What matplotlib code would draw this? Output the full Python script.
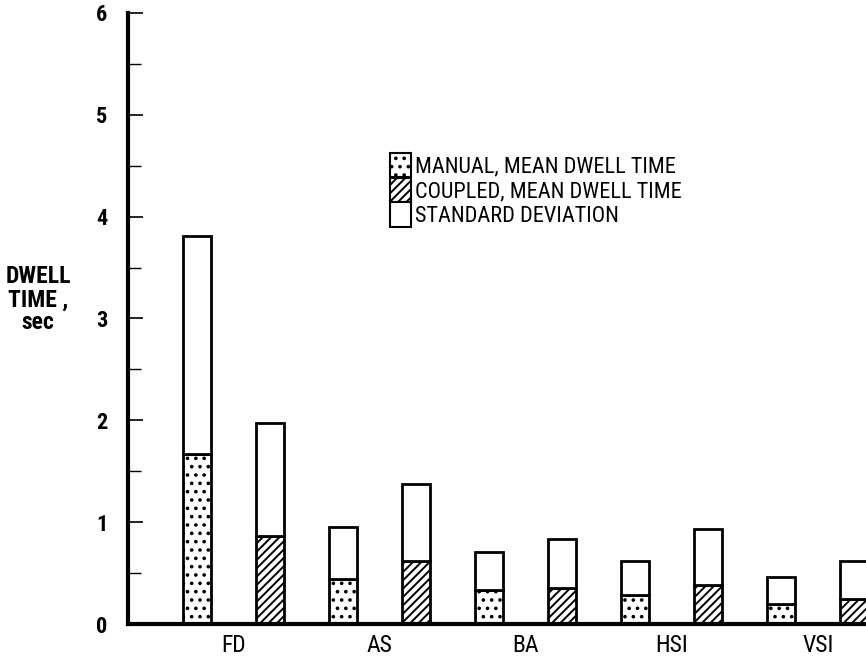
import matplotlib
matplotlib.use("Agg")
import matplotlib.pyplot as plt
import numpy as np
from matplotlib.patches import Patch
import matplotlib as mpl

mpl.rcParams['hatch.linewidth'] = 1.4

categories = ["FD", "AS", "BA", "HSI", "VSI"]
manual_mean = [1.67, 0.44, 0.33, 0.28, 0.20]
manual_std = [2.14, 0.51, 0.38, 0.34, 0.26]
coupled_mean = [0.86, 0.62, 0.35, 0.38, 0.25]
coupled_std = [1.11, 0.75, 0.48, 0.55, 0.37]
yticks = [0, 1, 2, 3, 4, 5, 6]

narrow = ['Roboto Condensed', 'DejaVu Sans']

fig = plt.figure(figsize=(8.66, 6.62), dpi=100)
ax = fig.add_axes([0.148, 0.0574, 0.852, 0.923])

n = len(categories)
xm = np.arange(n) * 2.0
xc = xm + 1.0
w = 0.38

ax.bar(xm, manual_mean, width=w, color='white', edgecolor='black', linewidth=2, hatch='..')
ax.bar(xm, manual_std, width=w, bottom=manual_mean, color='white', edgecolor='black', linewidth=2)
ax.bar(xc, coupled_mean, width=w, color='white', edgecolor='black', linewidth=2, hatch='////')
ax.bar(xc, coupled_std, width=w, bottom=coupled_mean, color='white', edgecolor='black', linewidth=2)

ax.set_xlim(-0.945, 9.16)
ax.set_ylim(0, 6)
ax.spines['top'].set_visible(False)
ax.spines['right'].set_visible(False)
ax.spines['left'].set_linewidth(3)
ax.spines['bottom'].set_linewidth(3)

ax.set_yticks(yticks)
ax.set_yticklabels([str(t) for t in yticks], fontsize=16, fontweight='bold', family=narrow)
ax.set_yticks(np.arange(0.5, 6, 1.0), minor=True)
ax.tick_params(axis='y', which='major', direction='in', length=11, width=1.2, pad=15)
ax.tick_params(axis='y', which='minor', direction='in', length=9, width=1.0)
ax.set_xticks((xm + xc) / 2)
ax.set_xticklabels(categories, fontsize=17, family=narrow)
ax.tick_params(axis='x', length=0, pad=7)

fig.text(0.044, 0.547, "DWELL\nTIME ,\nsec", ha='center', va='center', fontsize=17,
         fontweight='bold', family=narrow, linespacing=1.0)

handles = [Patch(facecolor='white', edgecolor='black', hatch='..', linewidth=1.5),
           Patch(facecolor='white', edgecolor='black', hatch='////', linewidth=1.5),
           Patch(facecolor='white', edgecolor='black', linewidth=1.5)]
labels = ["MANUAL, MEAN DWELL TIME", "COUPLED, MEAN DWELL TIME", "STANDARD DEVIATION"]
leg = ax.legend(handles, labels, loc='upper left', bbox_to_anchor=(0.343, 0.785), frameon=False,
                handlelength=0.95, handleheight=1.3, labelspacing=0.0, handletextpad=0.15,
                borderaxespad=0, prop={'family': narrow, 'size': 16})

fig.savefig("out.png", dpi=100)
